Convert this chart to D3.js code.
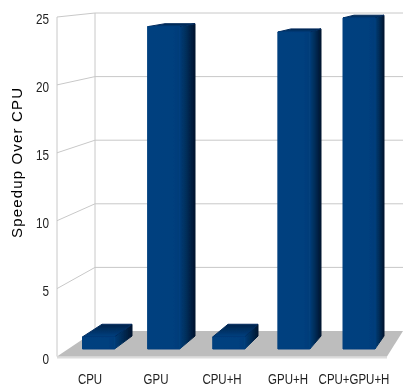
<!DOCTYPE html>
<html><head><meta charset="utf-8">
<script src="https://cdnjs.cloudflare.com/ajax/libs/d3/7.8.5/d3.min.js"></script>
<style>html,body{margin:0;padding:0;background:#fff}svg{display:block}</style>
</head><body><svg id="c" width="403" height="390"></svg>
<script>
const categories=["CPU","GPU","CPU+H","GPU+H","CPU+GPU+H"];
const speedup=[0.9,23.95,0.9,23.55,24.6];
const yTicks=[0,5,10,15,20,25];
const yTitle="Speedup Over CPU";

const svg=d3.select("#c");
const wallF=57,wallB=95,W=403,floorFR=387;
const yWallF=d3.scaleLinear().domain([0,25]).range([356.5,17]);
const yWallB=d3.scaleLinear().domain([0,25]).range([331,13]);
const yBarF=d3.scaleLinear().domain([0,25]).range([349,12.5]);
const yBarB=d3.scaleLinear().domain([0,25]).range([336,10]);
const xFront=d3.scalePoint().domain(categories).range([82.5,343]);
const xBackR=d3.scalePoint().domain(categories).range([132,384]);
const xLabel=d3.scalePoint().domain(categories).range([90,354]);
const frontW=32,backW=30;

const defs=svg.append("defs");
const g1=defs.append("linearGradient").attr("id","front").attr("x1",0).attr("x2",1).attr("y1",0).attr("y2",0);
[[0,"#00407f"],[0.8,"#003f7e"],[1,"#003c78"]].forEach(s=>g1.append("stop").attr("offset",s[0]).attr("stop-color",s[1]));
const g2=defs.append("linearGradient").attr("id","side").attr("x1",0).attr("x2",1).attr("y1",0).attr("y2",0);
[[0,"#003c78"],[0.35,"#003160"],[1,"#00152f"]].forEach(s=>g2.append("stop").attr("offset",s[0]).attr("stop-color",s[1]));
const g3=defs.append("linearGradient").attr("id","top").attr("x1",0).attr("x2",0).attr("y1",1).attr("y2",0);
[[0,"#004080"],[1,"#00234a"]].forEach(s=>g3.append("stop").attr("offset",s[0]).attr("stop-color",s[1]));
defs.append("filter").attr("id","soft").append("feGaussianBlur").attr("stdDeviation",0.5);
defs.append("filter").attr("id","softText").append("feGaussianBlur").attr("stdDeviation",0.3);

const grid="#c8c8c8";
const gw=svg.append("g").attr("filter","url(#soft)");
gw.append("line").attr("x1",wallF).attr("x2",wallF).attr("y1",yWallF(25)).attr("y2",yWallF(0)).attr("stroke",grid);
gw.append("line").attr("x1",wallB).attr("x2",wallB).attr("y1",yWallB(25)).attr("y2",yWallB(0)).attr("stroke",grid);
yTicks.filter(t=>t>0).forEach(t=>{
  gw.append("line").attr("x1",wallF).attr("y1",yWallF(t)).attr("x2",wallB).attr("y2",yWallB(t)).attr("stroke",grid);
  gw.append("line").attr("x1",wallB).attr("y1",yWallB(t)).attr("x2",W).attr("y2",yWallB(t)).attr("stroke",grid);
});
const line=d3.line();
gw.append("path").attr("d",line([[wallF,yWallF(0)],[floorFR,yWallF(0)],[floorFR,yWallF(0)+2],[wallF,yWallF(0)+2]])+"Z").attr("fill","#dcdcdc");
gw.append("path").attr("d",line([[wallF,yWallF(0)],[wallB,yWallB(0)],[W,yWallB(0)],[floorFR,yWallF(0)]])+"Z").attr("fill","#bdbdbd");

const bars=gw.selectAll("g.bar").data(categories.map((c,i)=>({c,v:speedup[i]}))).join("g").attr("class","bar");
bars.append("path").attr("d",d=>{
  const a=xFront(d.c)+frontW,b=xBackR(d.c);
  return line([[a,yBarF(0)],[b,yBarB(0)],[b,yBarB(d.v)],[a,yBarF(d.v)]])+"Z";
}).attr("fill","url(#side)").attr("stroke","url(#side)").attr("stroke-linejoin","round");
bars.append("path").attr("d",d=>{
  const a=xFront(d.c),b=xBackR(d.c);
  return line([[a,yBarF(d.v)],[a+frontW,yBarF(d.v)],[b,yBarB(d.v)],[b-backW,yBarB(d.v)]])+"Z";
}).attr("fill","url(#top)").attr("stroke","#002a5c").attr("stroke-linejoin","round");
bars.append("path").attr("d",d=>{
  const a=xFront(d.c);
  return line([[a,yBarF(0)],[a+frontW,yBarF(0)],[a+frontW,yBarF(d.v)],[a,yBarF(d.v)]])+"Z";
}).attr("fill","url(#front)").attr("stroke","#003f7e").attr("stroke-linejoin","round");

const font="'Liberation Sans',Arial,sans-serif";
const tsoft=svg.append("g").attr("filter","url(#softText)");
tsoft.selectAll("text.yt").data(yTicks).join("text").attr("class","yt")
  .attr("transform",t=>`translate(49,${yWallF(t)+7}) scale(0.84,1)`).attr("text-anchor","end")
  .attr("font-family",font).attr("font-size",14).attr("fill","#222").text(t=>t);
tsoft.selectAll("text.xt").data(categories).join("text").attr("class","xt")
  .attr("transform",c=>`translate(${xLabel(c)},383.5) scale(0.82,1)`).attr("text-anchor","middle")
  .attr("font-family",font).attr("font-size",14).attr("fill","#222").text(c=>c);
tsoft.append("text").attr("transform","translate(21.5,163) rotate(-90)").attr("text-anchor","middle")
  .attr("font-family",font).attr("font-size",15).attr("fill","#000").attr("textLength",150).text(yTitle);
</script></body></html>
